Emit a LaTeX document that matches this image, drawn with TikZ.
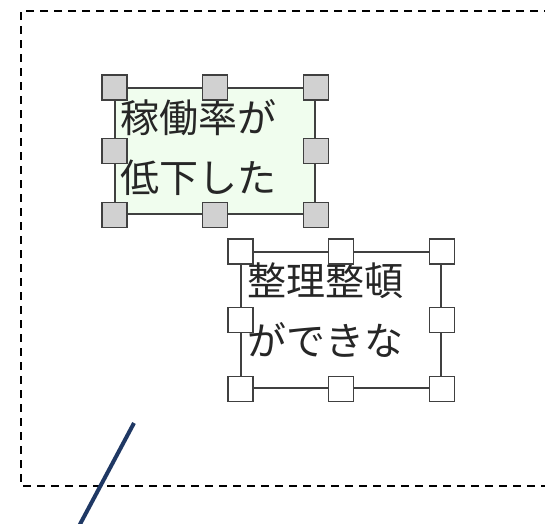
\documentclass[tikz,border=0pt]{standalone}
\usepackage{fontspec}
\newfontfamily\jp{Noto Sans CJK JP}
\begin{document}
\begin{tikzpicture}[x=1pt,y=-1pt,
  frame/.style={draw=black!75, line width=1.3pt, inner sep=0pt},
  handle/.style={draw=black!75, line width=1.3pt, minimum size=25pt, inner sep=0pt, rectangle},
  grayhandle/.style={handle, fill=black!18},
  whitehandle/.style={handle, fill=white},
  label/.style={anchor=west, inner sep=0pt, align=left, font=\jp\fontsize{39}{60}\selectfont, text=black!85},
  area/.style={draw=black, line width=1.6pt, dash pattern=on 8pt off 6pt}]
\useasboundingbox (0,0) rectangle (545,523);
\clip (0,0) rectangle (545,523);
\coordinate (a1) at (21,11);
\coordinate (a2) at (580,486);
\draw[area] (a2 |- a1) -- (a1) -- (a1 |- a2) -- (a2);
% box 1
\node[frame, fill={rgb,255:red,240;green,253;blue,238}, minimum width=200pt, minimum height=126pt] (b1) at (215,151) {};
\node[label] (t1) at (120,148) {稼働率が\\低下した};
\foreach \a/\n in {north west/1,north/2,north east/3,west/4,east/5,south west/6,south/7,south east/8}
  \node[grayhandle] (h1\n) at (b1.\a) {};
% box 2
\node[frame, fill=white, minimum width=200pt, minimum height=136pt] (b2) at (341,320) {};
\node[label] (t2) at (247,310) {整理整頓\\ができな};
\foreach \a/\n in {north west/1,north/2,north east/3,west/4,east/5,south west/6,south/7,south east/8}
  \node[whitehandle] (h2\n) at (b2.\a) {};
% line
\coordinate (l1) at (134,423);
\coordinate (l2) at (78,528);
\draw[draw={rgb,255:red,31;green,56;blue,100}, line width=4pt] (l1) -- (l2);
\end{tikzpicture}
\end{document}
